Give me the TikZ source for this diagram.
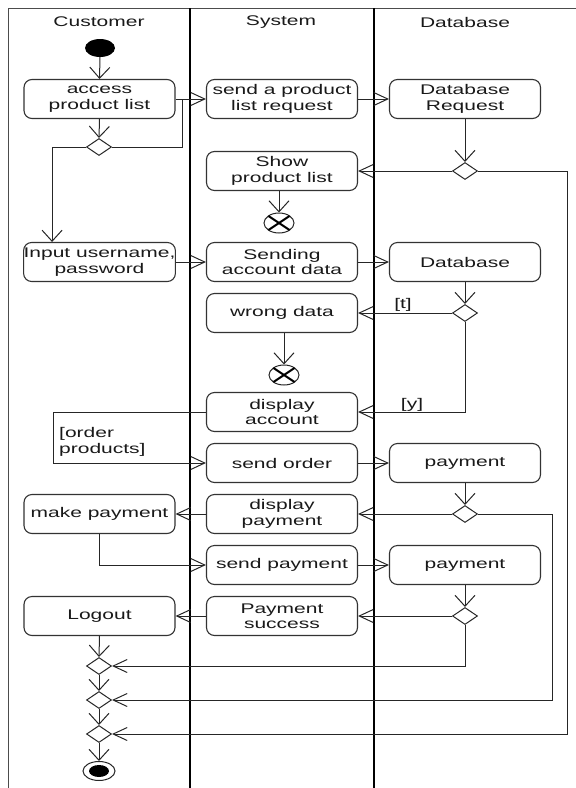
\documentclass[tikz,border=0pt]{standalone}
\usepackage{fontspec}
\setmainfont{Liberation Sans}[FakeStretch=1.5]
\usetikzlibrary{arrows.meta,shapes.geometric}

\newcommand\diafont{\fontsize{14}{15.5}\selectfont}

\tikzset{
  act/.style={draw=black!80, line width=1.1pt, rounded corners=8pt,
    minimum width=151pt, minimum height=39pt, inner sep=0pt,
    align=center, font=\diafont, text=black!90},
  dec/.style={draw=black!85, diamond, minimum width=25pt, minimum height=17pt,
    inner sep=0pt, line width=1pt, fill=white},
  startnode/.style={ellipse, fill=black, minimum width=30pt, minimum height=18pt, inner sep=0pt},
  flowend/.style={ellipse, draw=black!85, fill=white, line width=1pt,
    minimum width=30pt, minimum height=20pt, inner sep=0pt},
  finalnode/.style={ellipse, draw=black!85, line width=1pt,
    minimum width=32pt, minimum height=19pt, inner sep=0pt},
  xmark/.style={line width=2pt, black},
  lbl/.style={font=\diafont, text=black!90, inner sep=0pt, align=left},
  lane/.style={line width=2.5pt, black},
  frame/.style={line width=1pt, black!70},
  flowH/.style={draw=black!85, line width=1pt, -{Straight Barb[length=14pt,width=13pt]}},
  flowV/.style={draw=black!85, line width=1pt, -{Straight Barb[length=11pt,width=20pt]}},
  plain/.style={draw=black!85, line width=1pt},
}

\begin{document}
\begin{tikzpicture}[x=1pt,y=-1pt]
  \useasboundingbox (0,0) rectangle (576,788);

  % swimlane frame and dividers
  \draw[frame] (576,8) -- (8,8) -- (8,788);
  \draw[lane] (190,8) -- (190,788);
  \draw[lane] (374,8) -- (374,788);

  % lane headers
  \node[lbl] (hc) at (99,22) {Customer};
  \node[lbl] (hs) at (281,22) {System};
  \node[lbl] (hd) at (465,22) {Database};

  % customer lane
  \node[startnode] (init) at (100,48) {};
  \node[act] (access) at (99.5,99) {access\\product list};
  \node[dec] (dA) at (99,147) {};
  \node[act] (input) at (99.5,262) {Input username,\\password};
  \node[act] (makepay) at (99.5,514) {make payment};
  \node[act] (logout) at (99.5,616) {Logout};
  \node[dec] (m1) at (99,666) {};
  \node[dec] (m2) at (99,700) {};
  \node[dec] (m3) at (99,734) {};
  \node[finalnode] (endn) at (99,771) {};
  \fill (endn.center) ellipse [x radius=10pt, y radius=6pt];

  % system lane
  \node[act] (send) at (282,99) {send a product\\list request};
  \node[act] (show) at (282,171) {Show\\product list};
  \node[flowend] (x1) at (279,223) {};
  \node[act] (sending) at (282,262) {Sending\\account data};
  \node[act] (wrong) at (282,313) {wrong data};
  \node[flowend] (x2) at (284,375) {};
  \node[act] (disp) at (282,412) {display\\account};
  \node[act] (sendorder) at (282,463) {send order};
  \node[act] (disppay) at (282,514) {display\\payment};
  \node[act] (sendpay) at (282,565) {send payment};
  \node[act] (success) at (282,616) {Payment\\success};

  % database lane
  \node[act] (dbreq) at (465,99) {Database\\Request};
  \node[dec] (d1) at (465,171) {};
  \node[act] (database) at (465,262) {Database};
  \node[dec] (d2) at (465,313) {};
  \node[act] (pay1) at (465,463) {payment};
  \node[dec] (d3) at (465,514) {};
  \node[act] (pay2) at (465,565) {payment};
  \node[dec] (d4) at (465,616) {};

  % flow-final crosses
  \draw[xmark] ([shift={(-10.5,-7)}]x1.center) -- ([shift={(10.5,7)}]x1.center);
  \draw[xmark] ([shift={(-10.5,7)}]x1.center) -- ([shift={(10.5,-7)}]x1.center);
  \draw[xmark] ([shift={(-10.5,-7)}]x2.center) -- ([shift={(10.5,7)}]x2.center);
  \draw[xmark] ([shift={(-10.5,7)}]x2.center) -- ([shift={(10.5,-7)}]x2.center);

  % bend points
  \coordinate (jA) at (182,99);
  \coordinate (r1) at (567,171);
  \coordinate (r2) at (552,514);
  \coordinate (l1) at (53,412);

  % connectors
  \draw[flowV] (init.south) -- (access.north);
  \draw[flowV] (access.south) -- (dA.north);
  \draw[plain] (access.east) -- (jA);
  \draw[flowH] (dA.east) -| (jA) -- (send.west);
  \draw[flowV] (dA.west) -| ([xshift=29pt]input.north west);
  \draw[flowH] (send.east) -- (dbreq.west);
  \draw[flowV] (dbreq.south) -- (d1.north);
  \draw[flowH] (d1.west) -- (show.east);
  \draw[flowH] (d1.east) -- (r1) |- (m3.east);
  \draw[flowV] (x1.north |- show.south) -- (x1.north);

  \draw[flowH] (input.east) -- (sending.west);
  \draw[flowH] (sending.east) -- (database.west);
  \draw[flowV] (database.south) -- (d2.north);
  \draw[flowH] (d2.west) -- (wrong.east);
  \draw[flowH] (d2.south) |- (disp.east);
  \draw[flowV] (x2.north |- wrong.south) -- (x2.north);

  \draw[flowH] (disp.west) -- (l1) |- (sendorder.west);
  \draw[flowH] (sendorder.east) -- (pay1.west);
  \draw[flowV] (pay1.south) -- (d3.north);
  \draw[flowH] (d3.west) -- (disppay.east);
  \draw[flowH] (d3.east) -- (r2) |- (m2.east);
  \draw[flowH] (disppay.west) -- (makepay.east);
  \draw[flowH] (makepay.south) |- (sendpay.west);
  \draw[flowH] (sendpay.east) -- (pay2.west);
  \draw[flowV] (pay2.south) -- (d4.north);
  \draw[flowH] (d4.west) -- (success.east);
  \draw[flowH] (d4.south) |- (m1.east);
  \draw[flowH] (success.west) -- (logout.east);

  \draw[flowV] (logout.south) -- (m1.north);
  \draw[flowV] (m1.south) -- (m2.north);
  \draw[flowV] (m2.south) -- (m3.north);
  \draw[flowV] (m3.south) -- (endn.north);

  % guard labels
  \node[lbl] (gt) at (403,305) {[t]};
  \node[lbl] (gy) at (412,405) {[y]};
  \node[lbl, anchor=west] (go) at (59,442) {[order\\products]};
\end{tikzpicture}
\end{document}
